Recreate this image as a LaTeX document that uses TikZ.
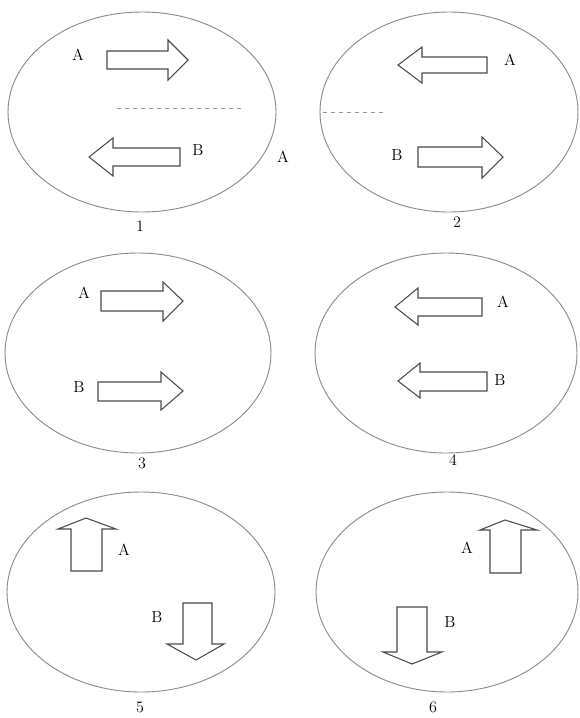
\documentclass[tikz,border=0pt]{standalone}
\usepackage{tikz}

\tikzset{every picture/.style={line width=0.75pt}}
\tikzset{
  ring/.style={draw=black!45, line width=0.7pt},
  blockarrow/.style={draw=black!70, line width=0.8pt, line join=miter},
  midline/.style={draw=black!40, dashed, line width=0.6pt},
  lbl/.style={inner sep=0.75pt, font=\large}
}

\begin{document}
\begin{tikzpicture}[x=0.75pt,y=0.75pt,yscale=-1,xscale=1]
\useasboundingbox (0,0) rectangle (579,718);

%Shape: Ellipse [panel 1]
\draw [ring] (142,112) ellipse [x radius=134, y radius=100];
%Shape: Ellipse [panel 2]
\draw [ring] (449,112) ellipse [x radius=129, y radius=100];
%Shape: Ellipse [panel 3]
\draw [ring] (138,353) ellipse [x radius=133, y radius=100];
%Shape: Ellipse [panel 4]
\draw [ring] (446,353) ellipse [x radius=131, y radius=100];
%Shape: Ellipse [panel 5]
\draw [ring] (141,592) ellipse [x radius=134, y radius=100];
%Shape: Ellipse [panel 6]
\draw [ring] (447,592) ellipse [x radius=131, y radius=100];

%Straight Lines [panel 1 middle]
\draw [midline] (117,108) -- (245,108);
%Straight Lines [panel 2 middle]
\draw [midline] (323,112) -- (383,112);

%Shape: Right Arrow [1 A]
\draw [blockarrow] (107,51) -- (168,51) -- (168,40) -- (188,60) -- (168,80) -- (168,69) -- (107,69) -- cycle ;
%Shape: Left Arrow [1 B]
\draw [blockarrow] (180,148) -- (113,148) -- (113,138) -- (89,157) -- (113,176) -- (113,166) -- (180,166) -- cycle ;
%Shape: Left Arrow [2 A]
\draw [blockarrow] (487,57) -- (422,57) -- (422,47) -- (398,65) -- (422,83) -- (422,73) -- (487,73) -- cycle ;
%Shape: Right Arrow [2 B]
\draw [blockarrow] (418,147) -- (482,147) -- (482,137) -- (503,157) -- (482,178) -- (482,167) -- (418,167) -- cycle ;
%Shape: Right Arrow [3 A]
\draw [blockarrow] (101,291) -- (163,291) -- (163,282) -- (183,301) -- (163,321) -- (163,311) -- (101,311) -- cycle ;
%Shape: Right Arrow [3 B]
\draw [blockarrow] (98,382) -- (161,382) -- (161,372) -- (183,391) -- (161,410) -- (161,401) -- (98,401) -- cycle ;
%Shape: Left Arrow [4 A]
\draw [blockarrow] (482,298) -- (418,298) -- (418,288) -- (395,307) -- (418,325) -- (418,316) -- (482,316) -- cycle ;
%Shape: Left Arrow [4 B]
\draw [blockarrow] (487,372) -- (420,372) -- (420,363) -- (398,381) -- (420,398) -- (420,391) -- (487,391) -- cycle ;
%Shape: Up Arrow [5 A]
\draw [blockarrow] (71,571) -- (71,529) -- (58,529) -- (86,518) -- (116,529) -- (102,529) -- (102,571) -- cycle ;
%Shape: Down Arrow [5 B]
\draw [blockarrow] (183,603) -- (183,644) -- (167,644) -- (196,660) -- (224,644) -- (212,644) -- (212,603) -- cycle ;
%Shape: Up Arrow [6 A]
\draw [blockarrow] (490,573) -- (490,530) -- (480,530) -- (505,520) -- (537,530) -- (521,530) -- (521,573) -- cycle ;
%Shape: Down Arrow [6 B]
\draw [blockarrow] (397,607) -- (397,652) -- (383,652) -- (412,664) -- (442,652) -- (427,652) -- (427,607) -- cycle ;

% Text Node
\draw (78,55) node [lbl] (a1) {A};
% Text Node
\draw (198,150) node [lbl] (b1) {B};
% Text Node
\draw (283,157) node [lbl] (a1x) {A};
% Text Node
\draw (140,226) node [lbl] (n1) {1};
% Text Node
\draw (510,60) node [lbl] (a2) {A};
% Text Node
\draw (397,155) node [lbl] (b2) {B};
% Text Node
\draw (457,222) node [lbl] (n2) {2};
% Text Node
\draw (84,293) node [lbl] (a3) {A};
% Text Node
\draw (79,387) node [lbl] (b3) {B};
% Text Node
\draw (142,463) node [lbl] (n3) {3};
% Text Node
\draw (503,302) node [lbl] (a4) {A};
% Text Node
\draw (500,380) node [lbl] (b4) {B};
% Text Node
\draw (453,460) node [lbl] (n4) {4};
% Text Node
\draw (124,550) node [lbl] (a5) {A};
% Text Node
\draw (157,617) node [lbl] (b5) {B};
% Text Node
\draw (140,707) node [lbl] (n5) {5};
% Text Node
\draw (467,548) node [lbl] (a6) {A};
% Text Node
\draw (450,622) node [lbl] (b6) {B};
% Text Node
\draw (433,707) node [lbl] (n6) {6};

\end{tikzpicture}
\end{document}
